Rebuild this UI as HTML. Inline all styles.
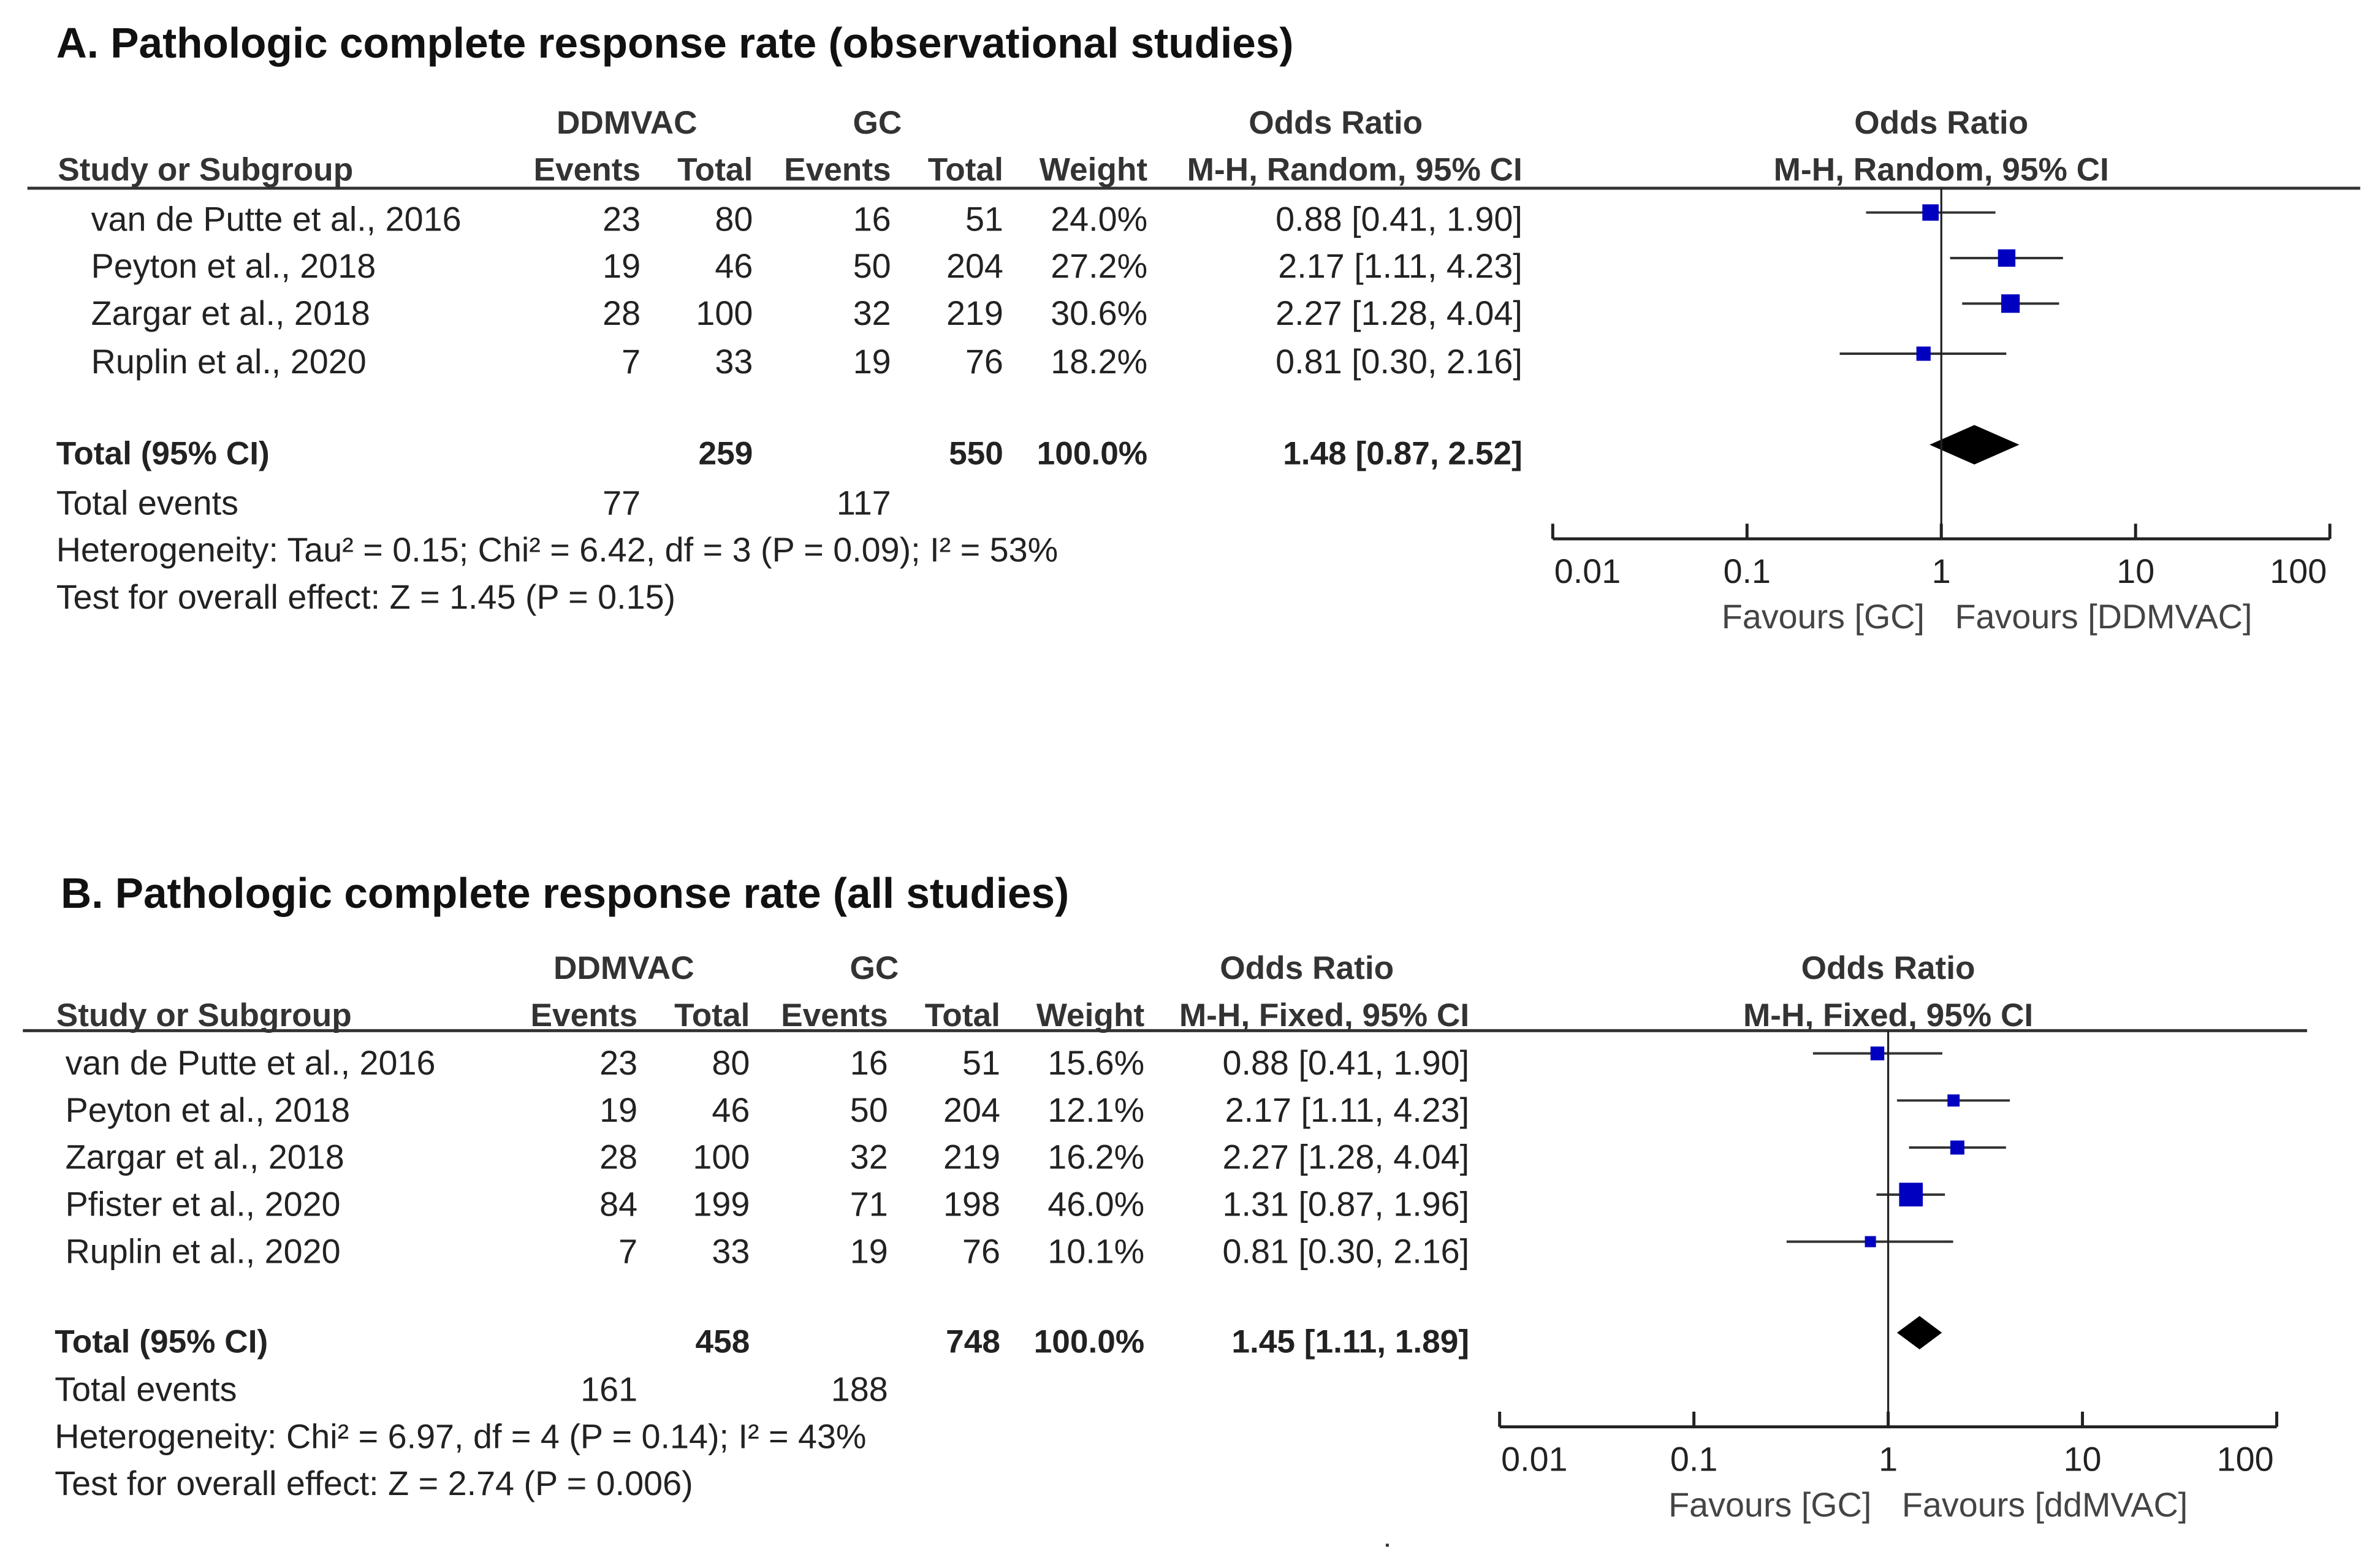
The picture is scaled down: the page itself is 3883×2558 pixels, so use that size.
<!DOCTYPE html>
<html><head><meta charset="utf-8"><style>
html,body{margin:0;padding:0;background:#fff;}
svg{display:block;}
text{font-family:"Liberation Sans",Arial,sans-serif;fill:#222;font-size:22.5px;}
.b{font-weight:bold;font-size:21.5px;}
.t{font-weight:bold;font-size:28px;fill:#111;}
.h{font-weight:bold;fill:#333;font-size:21.5px;}
.r{text-anchor:end;}
.m{text-anchor:middle;}
</style></head><body>
<svg id="fig" width="3883" height="2558" viewBox="0 0 1568 1033" xmlns="http://www.w3.org/2000/svg">
</svg>
<script>
// Panel A data
const studiesA = ["van de Putte et al., 2016","Peyton et al., 2018","Zargar et al., 2018","Ruplin et al., 2020"];
const evDA = [23,19,28,7];
const totDA = [80,46,100,33];
const evGA = [16,50,32,19];
const totGA = [51,204,219,76];
const weightA = [24.0,27.2,30.6,18.2];
const orA = [0.88,2.17,2.27,0.81];
const loA = [0.41,1.11,1.28,0.30];
const hiA = [1.90,4.23,4.04,2.16];
const pooledA = [1.48,0.87,2.52];
// Panel B data
const studiesB = ["van de Putte et al., 2016","Peyton et al., 2018","Zargar et al., 2018","Pfister et al., 2020","Ruplin et al., 2020"];
const evDB = [23,19,28,84,7];
const totDB = [80,46,100,199,33];
const evGB = [16,50,32,71,19];
const totGB = [51,204,219,198,76];
const weightB = [15.6,12.1,16.2,46.0,10.1];
const orB = [0.88,2.17,2.27,1.31,0.81];
const loB = [0.41,1.11,1.28,0.87,0.30];
const hiB = [1.90,4.23,4.04,1.96,2.16];
const pooledB = [1.45,1.11,1.89];
const tickVals = [0.01,0.1,1,10,100];
const tickLabels = ["0.01","0.1","1","10","100"];

const NS="http://www.w3.org/2000/svg";
const svg=document.getElementById('fig');
function el(tag,attrs,txt){const e=document.createElementNS(NS,tag);for(const k in attrs)e.setAttribute(k,attrs[k]);if(txt!==undefined)e.textContent=txt;svg.appendChild(e);return e;}
function fmt(v){return v.toFixed(2);}
function ci(o,l,h){return fmt(o)+" ["+fmt(l)+", "+fmt(h)+"]";}

function panel(p){
  const {title,tx,ty,h1,h2,line,cols,nameX,rowY,totY,evY,hetY,testY,hetText,testText,method,plotX0,axisY,studies,evD,totD,evG,totG,w,or,lo,hi,pooled,favR,sq,rowC,diaY,diaH,key}=p;
  let e;
  e=el('text',{x:tx,y:ty,class:'t'},title);
  
  
  const hdr=[[cols.ddm,h1,'DDMVAC','m'],[cols.gc,h1,'GC','m'],[cols.orc,h1,'Odds Ratio','m'],[plotX0+256,h1,'Odds Ratio','m'],
    [nameX-(key==='a'?22:6),h2,'Study or Subgroup',''],[cols.e1,h2,'Events','r'],[cols.t1,h2,'Total','r'],[cols.e2,h2,'Events','r'],[cols.t2,h2,'Total','r'],[cols.w,h2,'Weight','r'],[cols.ci,h2,method,'r'],[plotX0+256,h2,method,'m']];
  hdr.forEach(([x,y,s,c],i)=>{
    e=el('text',{x:x,y:y,class:'h '+c},s);
    
    
  });
  e=el('line',{x1:line[0],x2:line[1],y1:line[2],y2:line[2],stroke:'#333','stroke-width':2});
  
  
  const sx=v=>plotX0+128*(Math.log10(v)+2);
  studies.forEach((s,i)=>{
    const y=rowY[i];
    const vals=[[nameX,s,''],[cols.e1,evD[i],'r'],[cols.t1,totD[i],'r'],[cols.e2,evG[i],'r'],[cols.t2,totG[i],'r'],[cols.w,w[i].toFixed(1)+'%','r'],[cols.ci,ci(or[i],lo[i],hi[i]),'r']];
    vals.forEach(([x,t,c],j)=>{
      e=el('text',{x:x,y:y,class:c},t);
      
      
    });
    const cy=rowC[i];
    e=el('line',{x1:sx(lo[i]),x2:sx(hi[i]),y1:cy,y2:cy,stroke:'#333','stroke-width':1.6});
    
    
    const side=sq*Math.sqrt(w[i]);
    e=el('rect',{x:sx(or[i])-side/2,y:cy-side/2,width:side,height:side,fill:'#0000c0'});
    
    
  });
  const sumD=totD.reduce((a,b)=>a+b,0), sumG=totG.reduce((a,b)=>a+b,0);
  const tot=[[tx-(key==='a'?0:4),'Total (95% CI)',''],[cols.t1,sumD,'r'],[cols.t2,sumG,'r'],[cols.w,'100.0%','r'],[cols.ci,ci(pooled[0],pooled[1],pooled[2]),'r']];
  tot.forEach(([x,t,c],j)=>{
    e=el('text',{x:x,y:totY,class:'b '+c},t);
    
    
  });
  const lx=tot[0][0];
  e=el('text',{x:lx,y:evY},'Total events');
  
  
  e=el('text',{x:cols.e1,y:evY,class:'r'},evD.reduce((a,b)=>a+b,0));
  
  
  e=el('text',{x:cols.e2,y:evY,class:'r'},evG.reduce((a,b)=>a+b,0));
  
  
  e=el('text',{x:lx,y:hetY},hetText);
  
  
  e=el('text',{x:lx,y:testY},testText);
  
  
  const dp=[[sx(pooled[1]),diaY],[sx(pooled[0]),diaY-diaH],[sx(pooled[2]),diaY],[sx(pooled[0]),diaY+diaH]].map(p=>p.join(',')).join(' ');
  e=el('polygon',{points:dp,fill:'#000'});
  
  
  e=el('line',{x1:sx(1),x2:sx(1),y1:line[2],y2:axisY,stroke:'#222','stroke-width':1.3});
  
  
  e=el('line',{x1:sx(0.01),x2:sx(100),y1:axisY,y2:axisY,stroke:'#222','stroke-width':2});
  
  
  tickVals.forEach((v,i)=>{
    e=el('line',{x1:sx(v),x2:sx(v),y1:axisY-10,y2:axisY,stroke:'#222','stroke-width':2});
    
    
    const anchor=i===0?'start':(i===4?'end':'middle');
    e=el('text',{x:i===0?sx(v)+1:(i===4?sx(v)-2:sx(v)),y:axisY+29,'text-anchor':anchor},tickLabels[i]);
    
    
  });
  e=el('text',{x:sx(1)-11,y:axisY+59,class:'r',style:'fill:#444'},'Favours [GC]');
  
  
  e=el('text',{x:sx(1)+9,y:axisY+59,style:'fill:#444'},'Favours ['+favR+']');
  
  
}

panel({key:'a',title:'A. Pathologic complete response rate (observational studies)',tx:37,ty:38,h1:88,h2:119,line:[18,1555,124],
  cols:{ddm:413,gc:578,orc:880,e1:422,t1:496,e2:587,t2:661,w:756,ci:1003},nameX:60,rowY:[152,183,214,246],totY:306,evY:339,hetY:370,testY:401,
  hetText:'Heterogeneity: Tau² = 0.15; Chi² = 6.42, df = 3 (P = 0.09); I² = 53%',testText:'Test for overall effect: Z = 1.45 (P = 0.15)',
  method:'M-H, Random, 95% CI',plotX0:1023,axisY:355,studies:studiesA,evD:evDA,totD:totDA,evG:evGA,totG:totGA,w:weightA,or:orA,lo:loA,hi:hiA,pooled:pooledA,
  favR:'DDMVAC',sq:2.2,rowC:[140,170,200,233],diaY:293,diaH:13});
panel({key:'b',title:'B. Pathologic complete response rate (all studies)',tx:40,ty:598,h1:645,h2:676,line:[15,1520,679],
  cols:{ddm:411,gc:576,orc:861,e1:420,t1:494,e2:585,t2:659,w:754,ci:968},nameX:43,rowY:[708,739,770,801,832],totY:891,evY:923,hetY:954,testY:985,
  hetText:'Heterogeneity: Chi² = 6.97, df = 4 (P = 0.14); I² = 43%',testText:'Test for overall effect: Z = 2.74 (P = 0.006)',
  method:'M-H, Fixed, 95% CI',plotX0:988,axisY:940,studies:studiesB,evD:evDB,totD:totDB,evG:evGB,totG:totGB,w:weightB,or:orB,lo:loB,hi:hiB,pooled:pooledB,
  favR:'ddMVAC',sq:2.3,rowC:[694,725,756,787,818],diaY:878,diaH:11});
const dot=el('rect',{x:913,y:1017,width:2,height:2,fill:'#333'});


</script>
</body></html>
